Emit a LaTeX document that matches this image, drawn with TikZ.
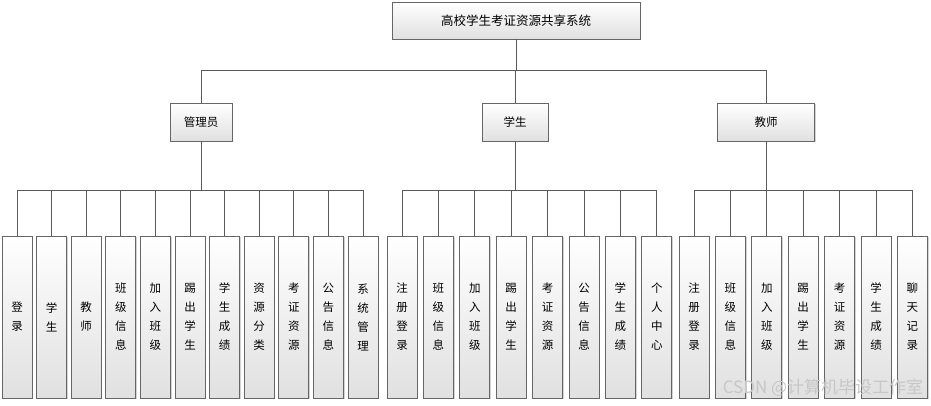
\documentclass[tikz,border=0pt]{standalone}
\usepackage{fontspec}
\setmainfont{Noto Sans CJK SC}
\usetikzlibrary{positioning,shadows}

\begin{document}
\begin{tikzpicture}[x=1pt, y=-1pt,
  box/.style={draw=black!60, line width=0.9pt, top color=white, bottom color=black!12,
    drop shadow={shadow xshift=1.2pt, shadow yshift=-1.2pt, opacity=0.35}},
  leaf/.style={box, minimum width=30pt, minimum height=162pt, inner sep=0pt, align=center,
    font=\fontsize{11.5}{19}\selectfont},
  mid/.style={box, minimum height=38pt, inner sep=0pt, font=\fontsize{11.5}{14}\selectfont},
  link/.style={draw=black!65, line width=0.9pt}]
\useasboundingbox (0,0) rectangle (931,405);

\node (Sys) [box, minimum width=248pt, minimum height=37pt, inner sep=0pt,
  font=\fontsize{12.5}{15}\selectfont] at (516,20.5) {高校学生考证资源共享系统};

\node (Adm) [mid, minimum width=62pt] at (201,122) {管理员};
\node (Stu) [mid, minimum width=66pt] at (515,122) {学生};
\node (Tea) [mid, minimum width=97pt] at (766,122) {教师};

% 管理员
\node (A1) [leaf] at (17,317) {登\\录};
\node (A2) [leaf, right=3.7pt of A1] {学\\生};
\node (A3) [leaf, right=3.7pt of A2] {教\\师};
\node (A4) [leaf, right=3.7pt of A3] {班\\级\\信\\息};
\node (A5) [leaf, right=3.7pt of A4] {加\\入\\班\\级};
\node (A6) [leaf, right=3.7pt of A5] {踢\\出\\学\\生};
\node (A7) [leaf, right=3.7pt of A6] {学\\生\\成\\绩};
\node (A8) [leaf, right=3.7pt of A7] {资\\源\\分\\类};
\node (A9) [leaf, right=3.7pt of A8] {考\\证\\资\\源};
\node (A10) [leaf, right=3.7pt of A9] {公\\告\\信\\息};
\node (A11) [leaf, right=3.7pt of A10] {系\\统\\管\\理};

% 学生
\node (S1) [leaf] at (402,317) {注\\册\\登\\录};
\node (S2) [leaf, right=5.5pt of S1] {班\\级\\信\\息};
\node (S3) [leaf, right=5.5pt of S2] {加\\入\\班\\级};
\node (S4) [leaf, right=5.5pt of S3] {踢\\出\\学\\生};
\node (S5) [leaf, right=5.5pt of S4] {考\\证\\资\\源};
\node (S6) [leaf, right=5.5pt of S5] {公\\告\\信\\息};
\node (S7) [leaf, right=5.5pt of S6] {学\\生\\成\\绩};
\node (S8) [leaf, right=5.5pt of S7] {个\\人\\中\\心};

% 教师
\node (T1) [leaf] at (694,317) {注\\册\\登\\录};
\node (T2) [leaf, right=5.5pt of T1] {班\\级\\信\\息};
\node (T3) [leaf, right=5.5pt of T2] {加\\入\\班\\级};
\node (T4) [leaf, right=5.5pt of T3] {踢\\出\\学\\生};
\node (T5) [leaf, right=5.5pt of T4] {考\\证\\资\\源};
\node (T6) [leaf, right=5.5pt of T5] {学\\生\\成\\绩};
\node (T7) [leaf, right=5.5pt of T6] {聊\\天\\记\\录};

\draw[link] (Sys.south) -- ++(0,31) coordinate (top);
\draw[link] (Adm.north) |- (top) (Stu.north) |- (top) (Tea.north) |- (top);

\draw[link] (Adm.south) -- ++(0,49) coordinate (abus);
\draw[link] (A1.north) |- (abus) (A2.north) |- (abus) (A3.north) |- (abus)
  (A4.north) |- (abus) (A5.north) |- (abus) (A6.north) |- (abus) (A7.north) |- (abus)
  (A8.north) |- (abus) (A9.north) |- (abus) (A10.north) |- (abus) (A11.north) |- (abus);

\draw[link] (Stu.south) -- ++(0,49) coordinate (sbus);
\draw[link] (S1.north) |- (sbus) (S2.north) |- (sbus) (S3.north) |- (sbus)
  (S4.north) |- (sbus) (S5.north) |- (sbus) (S6.north) |- (sbus) (S7.north) |- (sbus)
  (S8.north) |- (sbus);

\draw[link] (Tea.south) -- ++(0,49) coordinate (tbus);
\draw[link] (T1.north) |- (tbus) (T2.north) |- (tbus) (T3.north) |- (tbus)
  (T4.north) |- (tbus) (T5.north) |- (tbus) (T6.north) |- (tbus) (T7.north) |- (tbus);

\node (wm) [text=black!22, font=\fontsize{17}{17}\selectfont] at (823,388) {CSDN @计算机毕设工作室};
\end{tikzpicture}
\end{document}
